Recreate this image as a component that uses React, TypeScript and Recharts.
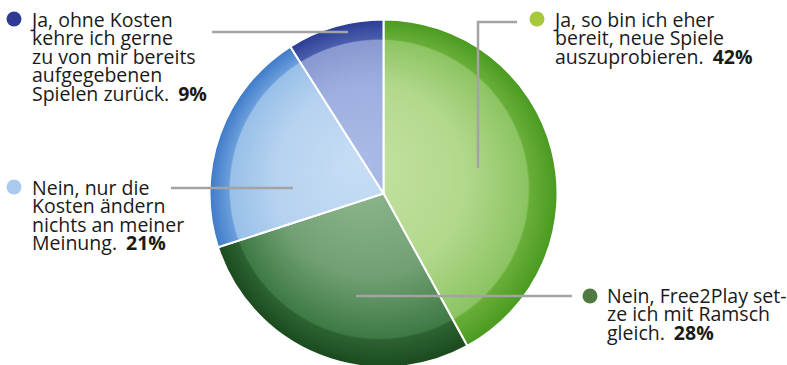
import React from "react";
import { PieChart, Pie, Cell } from "recharts";

// Umfrage: Free2Play-Spiele
const answers = [
  "Ja, so bin ich eher bereit, neue Spiele auszuprobieren.",
  "Nein, Free2Play setze ich mit Ramsch gleich.",
  "Nein, nur die Kosten ändern nichts an meiner Meinung.",
  "Ja, ohne Kosten kehre ich gerne zu von mir bereits aufgegebenen Spielen zurück.",
];
const shares = [42, 28, 21, 9];

// manual line breaks, as in the print layout
const labelLines = [
  ["Ja, so bin ich eher", "bereit, neue Spiele", "auszuprobieren."],
  ["Nein, Free2Play set-", "ze ich mit Ramsch", "gleich."],
  ["Nein, nur die", "Kosten ändern", "nichts an meiner", "Meinung."],
  ["Ja, ohne Kosten", "kehre ich gerne", "zu von mir bereits", "aufgegebenen", "Spielen zurück."],
];

const bulletColors = ["#a6c83a", "#4f7a42", "#a9c9ee", "#2f3a94"];

const gradients = [
  { id: "gGreen", stops: ["#c6e3a4", "#b2d88c", "#8cc462", "#68ae38", "#4a9a20"] },
  { id: "gDark", stops: ["#94bc94", "#72a074", "#3e7a44", "#2c6232", "#1a4a1e"] },
  { id: "gLight", stops: ["#c6ddf4", "#b6d2f0", "#98c0e8", "#6a9edc", "#3e7ac8"] },
  { id: "gBlue", stops: ["#abbbe6", "#9dafe0", "#8898d0", "#4a5eac", "#2a3c94"] },
];

const data = answers.map((name, i) => ({ name, value: shares[i] }));

const CX = 383.5;
const CY = 193.5;
const R = 174;

// label placement: bullet, text origin, leader line points
const labelPos = [
  { bx: 537, by: 19, tx: 555, ty: 27, line: [[517, 22], [478, 22], [478, 168]] },
  { bx: 590, by: 296, tx: 607, ty: 303, line: [[572, 296], [356, 296]] },
  { bx: 14, by: 187, tx: 32, ty: 195, line: [[171, 188], [293, 188]] },
  { bx: 14, by: 19, tx: 32, ty: 27, line: [[212, 32], [348, 32]] },
];

const renderLabel = (props: any) => {
  const i = props.index;
  const p = labelPos[i];
  const lines = labelLines[i];
  return (
    <g key={"lbl" + i}>
      <polyline
        points={p.line.map((pt) => pt.join(",")).join(" ")}
        fill="none"
        stroke="#a3a3a3"
        strokeWidth={2.5}
      />
      <circle cx={p.bx} cy={p.by} r={7.5} fill={bulletColors[i]} />
      <text x={p.tx} y={p.ty} fill="#1a1a1a" fontSize={19.5} fontFamily="'Open Sans', sans-serif">
        {lines.map((l, j) => (
          <tspan key={j} x={p.tx} y={p.ty + j * 18.4}>
            {l}
            {j === lines.length - 1 && (
              <tspan fontWeight="bold" dx={9}>
                {shares[i]}%
              </tspan>
            )}
          </tspan>
        ))}
      </text>
    </g>
  );
};

export default function App() {
  return (
    <div style={{ position: "absolute", left: 0, top: 0, background: "#fff" }}>
      <PieChart width={787} height={365} margin={{ top: 0, right: 0, bottom: 0, left: 0 }}>
        <defs>
          {gradients.map((g) => (
            <radialGradient
              key={g.id}
              id={g.id}
              gradientUnits="userSpaceOnUse"
              cx={CX}
              cy={CY}
              r={R}
              fx={CX - 30}
              fy={CY - 30}
            >
              <stop offset="0" stopColor={g.stops[0]} />
              <stop offset="0.55" stopColor={g.stops[1]} />
              <stop offset="0.855" stopColor={g.stops[2]} />
              <stop offset="0.865" stopColor={g.stops[3]} />
              <stop offset="1" stopColor={g.stops[4]} />
            </radialGradient>
          ))}
        </defs>
        <Pie
          data={data}
          dataKey="value"
          nameKey="name"
          cx={CX}
          cy={CY}
          outerRadius={R}
          startAngle={90}
          endAngle={-270}
          stroke="#ffffff"
          strokeWidth={2}
          label={renderLabel}
          labelLine={false}
          isAnimationActive={false}
        >
          {data.map((d, i) => (
            <Cell key={d.name} fill={`url(#${gradients[i].id})`} />
          ))}
        </Pie>
      </PieChart>
    </div>
  );
}
